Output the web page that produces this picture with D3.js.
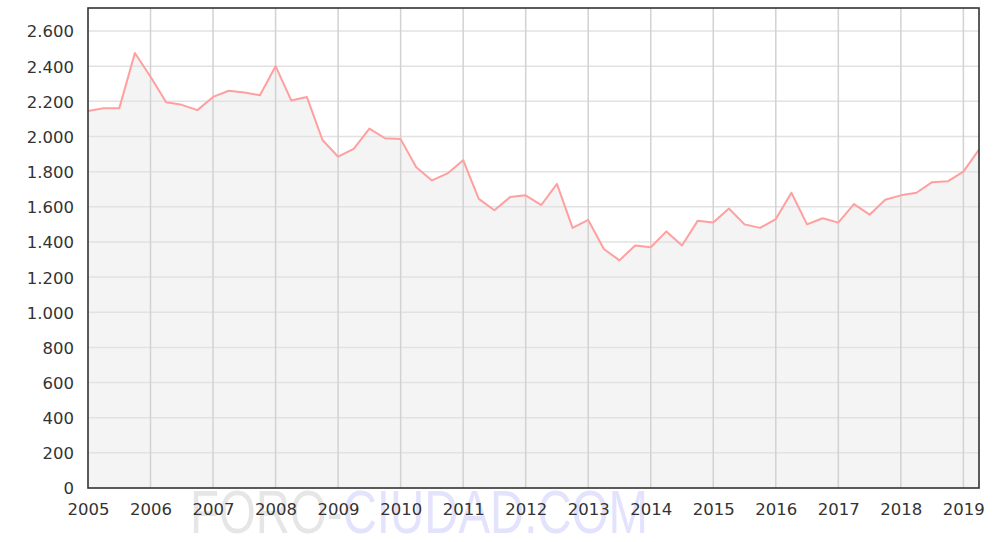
<!DOCTYPE html>
<html>
	<head>
		<meta charset="utf-8"/>
		<script src="https://d3js.org/d3.v7.min.js"></script>
		<style>
			body { margin: 0; background: #fff; }
			svg { display: block; }
			.tick text { font-family: 'DejaVu Sans'; font-size: 16.5px; fill: #333; }
		</style>
	</head>
	<body>
		<div id="chart"></div>
		<script>
			// quarterly series, first point 2005 Q1
			var startYear = 2005;
			var values = [
				2145, 2160, 2160, 2475, 2340, 2195, 2180, 2150,
				2225, 2260, 2250, 2235, 2400, 2205, 2225, 1980,
				1885, 1930, 2045, 1990, 1985, 1825, 1750, 1790,
				1865, 1645, 1580, 1655, 1665, 1610, 1730, 1480,
				1525, 1360, 1295, 1380, 1370, 1460, 1380, 1520,
				1510, 1590, 1500, 1480, 1530, 1680, 1500, 1535,
				1510, 1615, 1555, 1640, 1665, 1680, 1740, 1745,
				1800, 1925
			];
			var yearTicks = [2005, 2006, 2007, 2008, 2009, 2010, 2011, 2012, 2013, 2014, 2015, 2016, 2017, 2018, 2019];
			var valueTicks = [0, 200, 400, 600, 800, 1000, 1200, 1400, 1600, 1800, 2000, 2200, 2400, 2600];

			var W = 1000, H = 542;
			var m = {top: 8, right: 21, bottom: 54, left: 88};
			var w = W - m.left - m.right, h = H - m.top - m.bottom;

			var data = values.map((v, i) => [startYear + i / 4, v]);

			var x = d3.scaleLinear().domain([startYear, data[data.length - 1][0]]).range([0, w]);
			var y = d3.scaleLinear().domain([0, 2731]).range([h, 0]);

			var fmt = d3.formatLocale({decimal: ',', thousands: '.', grouping: [3], currency: ['', '']}).format(',d');

			var svg = d3.select('#chart').append('svg').attr('width', W).attr('height', H);

			// watermark
			var wm = svg.append('text')
				.attr('x', 190).attr('y', 533)
				.attr('textLength', 458).attr('lengthAdjust', 'spacingAndGlyphs')
				.style('font-family', "'Liberation Sans Narrow', 'Liberation Sans'").style('font-size', '62px');
			wm.append('tspan').attr('fill', '#e6e6e6').text('FORO-');
			wm.append('tspan').attr('fill', '#e3e3fd').text('CIUDAD.COM');

			var g = svg.append('g').attr('transform', `translate(${m.left},${m.top})`);

			g.append('path')
				.datum(data)
				.attr('fill', '#f4f4f4')
				.attr('d', d3.area().x(d => x(d[0])).y0(h).y1(d => y(d[1])));

			// grid
			g.selectAll('.hgrid').data(valueTicks.slice(1)).join('line')
				.attr('x1', 0).attr('x2', w)
				.attr('y1', d => y(d)).attr('y2', d => y(d))
				.attr('stroke', '#e2e2e2').attr('stroke-width', 1.5);
			g.selectAll('.vgrid').data(yearTicks.slice(1)).join('line')
				.attr('x1', d => x(d)).attr('x2', d => x(d))
				.attr('y1', 0).attr('y2', h)
				.attr('stroke', '#d2d2d2').attr('stroke-width', 1.5);

			g.append('path')
				.datum(data)
				.attr('fill', 'none')
				.attr('stroke', '#ff9f9f')
				.attr('stroke-width', 2)
				.attr('stroke-linejoin', 'round')
				.attr('d', d3.line().x(d => x(d[0])).y(d => y(d[1])));

			// frame
			g.append('rect')
				.attr('width', w).attr('height', h)
				.attr('fill', 'none').attr('stroke', '#333').attr('stroke-width', 1.6);

			var yAxis = g.append('g')
				.call(d3.axisLeft(y).tickValues(valueTicks).tickFormat(fmt).tickSize(0).tickPadding(14));
			yAxis.select('.domain').remove();
			yAxis.selectAll('text').attr('dy', '0.36em');

			var xAxis = g.append('g').attr('transform', `translate(0,${h})`)
				.call(d3.axisBottom(x).tickValues(yearTicks).tickFormat(d3.format('d')).tickSize(0).tickPadding(15));
			xAxis.select('.domain').remove();
		</script>
	</body>
</html>
